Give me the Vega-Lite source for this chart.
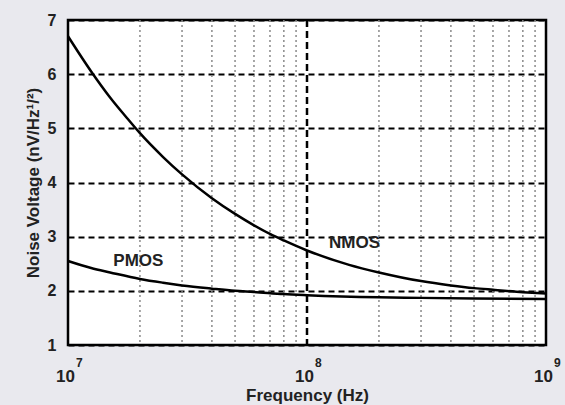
{
  "$schema": "https://vega.github.io/schema/vega-lite/v6.json",
  "width": 478,
  "height": 325,
  "autosize": {"type": "none"},
  "padding": {"left": 68, "top": 20, "right": 19, "bottom": 60},
  "background": "#e9e9ee",
  "config": {
    "view": {"fill": "white", "stroke": "black", "strokeWidth": 2.5},
    "font": "Liberation Sans"
  },
  "datasets": {
    "minor": [
      {"f": 2e7}, {"f": 3e7}, {"f": 4e7}, {"f": 5e7}, {"f": 6e7}, {"f": 7e7}, {"f": 8e7}, {"f": 9e7},
      {"f": 2e8}, {"f": 3e8}, {"f": 4e8}, {"f": 5e8}, {"f": 6e8}, {"f": 7e8}, {"f": 8e8}, {"f": 9e8}
    ],
    "major": [{"f": 1e8}],
    "exponents": [
      {"f": 1e7, "e": "7"},
      {"f": 1e8, "e": "8"},
      {"f": 1e9, "e": "9"}
    ],
    "curves": [
      {"f": 1e7, "v": 6.70, "device": "NMOS"},
      {"f": 1.25e7, "v": 6.05, "device": "NMOS"},
      {"f": 1.5e7, "v": 5.57, "device": "NMOS"},
      {"f": 1.75e7, "v": 5.21, "device": "NMOS"},
      {"f": 2e7, "v": 4.91, "device": "NMOS"},
      {"f": 2.5e7, "v": 4.47, "device": "NMOS"},
      {"f": 3e7, "v": 4.15, "device": "NMOS"},
      {"f": 4e7, "v": 3.71, "device": "NMOS"},
      {"f": 5e7, "v": 3.42, "device": "NMOS"},
      {"f": 6e7, "v": 3.21, "device": "NMOS"},
      {"f": 7e7, "v": 3.05, "device": "NMOS"},
      {"f": 8e7, "v": 2.93, "device": "NMOS"},
      {"f": 1e8, "v": 2.745, "device": "NMOS"},
      {"f": 1.5e8, "v": 2.48, "device": "NMOS"},
      {"f": 2e8, "v": 2.34, "device": "NMOS"},
      {"f": 3e8, "v": 2.18, "device": "NMOS"},
      {"f": 4e8, "v": 2.10, "device": "NMOS"},
      {"f": 5e8, "v": 2.05, "device": "NMOS"},
      {"f": 6e8, "v": 2.02, "device": "NMOS"},
      {"f": 8e8, "v": 1.976, "device": "NMOS"},
      {"f": 1e9, "v": 1.95, "device": "NMOS"},
      {"f": 1e7, "v": 2.55, "device": "PMOS"},
      {"f": 1.25e7, "v": 2.42, "device": "PMOS"},
      {"f": 1.5e7, "v": 2.34, "device": "PMOS"},
      {"f": 2e7, "v": 2.22, "device": "PMOS"},
      {"f": 2.5e7, "v": 2.15, "device": "PMOS"},
      {"f": 3e7, "v": 2.10, "device": "PMOS"},
      {"f": 4e7, "v": 2.04, "device": "PMOS"},
      {"f": 5e7, "v": 2.00, "device": "PMOS"},
      {"f": 6e7, "v": 1.98, "device": "PMOS"},
      {"f": 8e7, "v": 1.94, "device": "PMOS"},
      {"f": 1e8, "v": 1.92, "device": "PMOS"},
      {"f": 2e8, "v": 1.88, "device": "PMOS"},
      {"f": 3e8, "v": 1.87, "device": "PMOS"},
      {"f": 5e8, "v": 1.86, "device": "PMOS"},
      {"f": 1e9, "v": 1.85, "device": "PMOS"}
    ],
    "labels": [
      {"f": 1.58e8, "v": 2.88, "text": "NMOS"},
      {"f": 1.97e7, "v": 2.55, "text": "PMOS"}
    ]
  },
  "layer": [
    {
      "data": {"name": "minor"},
      "mark": {"type": "rule", "color": "#8a8a8a", "strokeWidth": 1.5, "strokeDash": [2, 3]},
      "encoding": {
        "x": {"field": "f", "type": "quantitative", "scale": {"type": "log", "domain": [1e7, 1e9]}}
      }
    },
    {
      "data": {"name": "major"},
      "mark": {"type": "rule", "color": "black", "strokeWidth": 2.5, "strokeDash": [7, 4]},
      "encoding": {
        "x": {"field": "f", "type": "quantitative", "scale": {"type": "log", "domain": [1e7, 1e9]}}
      }
    },
    {
      "data": {"name": "curves"},
      "mark": {"type": "line", "color": "black", "strokeWidth": 2.5, "interpolate": "monotone"},
      "encoding": {
        "x": {
          "field": "f", "type": "quantitative",
          "scale": {"type": "log", "domain": [1e7, 1e9]},
          "axis": {
            "values": [1e7, 1e8, 1e9],
            "labelExpr": "'10'",
            "grid": false, "ticks": false, "domain": false,
            "labelFlush": false,
            "labelOffset": -3,
            "labelFont": "Liberation Sans", "labelFontSize": 17, "labelFontWeight": "bold", "labelColor": "#222",
            "labelPadding": 23,
            "title": "Frequency (Hz)",
            "titleFont": "Liberation Sans", "titleFontSize": 17, "titleFontWeight": "bold", "titleColor": "#222",
            "titlePadding": 3
          }
        },
        "y": {
          "field": "v", "type": "quantitative",
          "scale": {"domain": [1, 7], "nice": false, "zero": false},
          "axis": {
            "values": [1, 2, 3, 4, 5, 6, 7],
            "format": "d",
            "grid": true, "gridColor": "black", "gridWidth": 2, "gridDash": [6, 4], "gridOpacity": 1,
            "ticks": false, "domain": false,
            "labelFont": "Liberation Sans", "labelFontSize": 16, "labelFontWeight": "bold", "labelColor": "#222",
            "labelPadding": 12,
            "title": "Noise Voltage (nV/Hz¹/²)",
            "titleFont": "Liberation Sans", "titleFontSize": 17, "titleFontWeight": "bold", "titleColor": "#222",
            "titlePadding": 5
          }
        },
        "detail": {"field": "device"}
      }
    },
    {
      "data": {"name": "exponents"},
      "mark": {"type": "text", "font": "Liberation Sans", "fontSize": 12, "fontWeight": "bold", "color": "#222", "baseline": "middle", "align": "left", "dx": 8, "dy": 18, "clip": false},
      "encoding": {
        "x": {"field": "f", "type": "quantitative", "scale": {"type": "log", "domain": [1e7, 1e9]}},
        "y": {"datum": 1},
        "text": {"field": "e"}
      }
    },
    {
      "data": {"name": "labels"},
      "mark": {"type": "text", "font": "Liberation Sans", "fontSize": 17, "fontWeight": "bold", "color": "#222", "baseline": "middle", "align": "center"},
      "encoding": {
        "x": {"field": "f", "type": "quantitative", "scale": {"type": "log", "domain": [1e7, 1e9]}},
        "y": {"field": "v", "type": "quantitative"},
        "text": {"field": "text"}
      }
    }
  ]
}
